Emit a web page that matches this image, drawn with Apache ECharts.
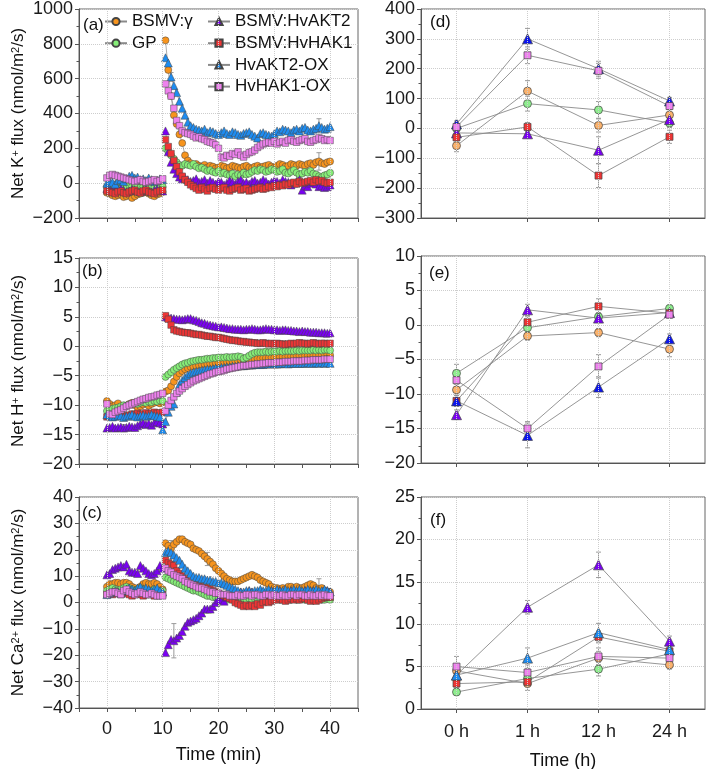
<!DOCTYPE html>
<html>
<head>
<meta charset="utf-8">
<script src="https://cdn.jsdelivr.net/npm/echarts@6/dist/echarts.min.js"></script>
<style>html,body{margin:0;padding:0;background:#fff}#c{width:709px;height:769px}</style>
</head>
<body>
<div id="c"></div>
<script>
// ---------- DATA ----------
const seriesNames = ['BSMV:\u03b3', 'GP', 'BSMV:HvAKT2', 'BSMV:HvHAK1', 'HvAKT2-OX', 'HvHAK1-OX'];
const tMin = [0,0.5,1,1.5,2,2.5,3,3.5,4,4.5,5,5.5,6,6.5,7,7.5,8,8.5,9,9.5,10,
  10.5,11,11.5,12,12.5,13,13.5,14,14.5,15,15.5,16,16.5,17,17.5,18,18.5,19,19.5,20,
  20.5,21,21.5,22,22.5,23,23.5,24,24.5,25,25.5,26,26.5,27,27.5,28,28.5,29,29.5,30,
  30.5,31,31.5,32,32.5,33,33.5,34,34.5,35,35.5,36,36.5,37,37.5,38,38.5,39,39.5,40];
const treatmentStart = 10.25; // line break between pre- and post-treatment recordings
const hours = ['0 h', '1 h', '12 h', '24 h'];

// (a) net K+ flux
const aGamma = [-55,-60,-70,-75,-70,-65,-80,-75,-70,-85,-75,-65,-60,-55,-50,-60,-70,-75,-65,-60,-50,
  820,650,500,390,340,280,230,160,130,115,
  105,110,100,95,105,90,100,95,85,90,
  100,95,85,90,100,95,90,85,95,100,
  90,85,95,100,90,95,100,105,95,90,
  100,110,105,95,100,110,105,100,110,105,
  100,110,115,105,120,125,115,110,120,125];
const aGP = [-20,-15,-25,-10,-20,-30,-15,-25,-10,-20,-5,-15,-25,-20,-10,-20,-15,-25,-10,-15,-20,
  200,180,160,140,120,105,100,110,105,100,
  110,95,85,90,80,70,75,65,60,70,
  55,60,50,45,55,40,50,45,60,50,
  55,65,75,70,80,75,65,70,80,75,
  65,70,80,60,55,65,75,60,50,55,
  65,60,70,55,50,40,35,45,50,60];
const aAKT2 = [-30,-35,-40,-45,-35,-30,-40,-50,-45,-35,-40,-45,-50,-40,-35,-45,-50,-40,-35,-40,-45,
  300,180,120,80,55,35,25,30,20,10,
  15,25,5,10,20,0,15,5,-5,10,
  5,-10,0,15,5,-5,10,20,0,5,
  -5,10,15,0,5,20,10,-5,5,15,
  10,0,20,10,5,-10,0,10,20,-40,
  -15,-20,0,10,-5,-20,-15,-25,-20,-10];
const aHAK1 = [-45,-50,-55,-60,-50,-45,-55,-60,-50,-45,-40,-50,-55,-45,-40,-50,-55,-60,-50,-45,-40,
  250,210,170,130,95,65,40,20,5,-10,
  -20,-30,-40,-25,-35,-45,-30,-25,-35,-40,
  -30,-25,-40,-45,-35,-30,-25,-40,-35,-30,
  -45,-40,-35,-30,-25,-35,-30,-20,-25,-15,
  -20,-10,-15,-5,-10,0,5,-5,10,0,
  5,10,15,5,20,10,15,5,0,5];
const aAKT2OX = [0,10,5,-5,15,20,10,25,40,45,30,35,20,25,15,30,20,10,15,25,20,
  720,690,610,560,520,470,430,390,350,330,
  320,310,305,300,310,290,300,295,285,280,
  290,300,285,280,295,290,280,275,285,290,
  295,280,270,260,285,290,280,275,270,285,
  300,295,310,305,300,290,305,310,300,315,
  320,305,300,310,315,330,320,310,315,325];
const aHAK1OX = [30,45,50,45,40,35,30,25,20,15,10,15,20,10,5,10,15,20,10,15,25,
  570,530,500,430,360,330,300,290,285,280,
  270,260,265,255,250,240,235,230,220,200,
  150,145,160,155,170,165,180,160,150,165,
  175,180,190,205,215,225,230,235,230,240,
  225,235,240,230,245,250,240,235,245,250,
  255,240,235,245,250,260,255,245,250,245];

// (b) net H+ flux
const bGamma = [-9.3,-9.8,-10.2,-10.0,-9.7,-10.3,-10.5,-10.1,-9.8,-9.6,-10.0,-10.4,-10.2,-9.9,-9.7,-10.1,-9.8,-9.6,-9.4,-9.7,-9.5,
  -7.7,-7.5,-6.8,-6.0,-5.2,-4.6,-4.2,-3.9,-3.7,-3.5,
  -3.4,-3.3,-3.2,-3.1,-3.0,-3.0,-2.9,-2.9,-2.8,-2.8,
  -2.7,-2.7,-2.6,-2.6,-2.5,-2.5,-2.5,-2.4,-2.4,-2.3,
  -2.3,-2.2,-2.2,-2.1,-2.1,-2.0,-2.0,-2.0,-1.9,-1.9,
  -1.9,-1.8,-1.8,-1.8,-1.7,-1.7,-1.7,-1.6,-1.6,-1.6,
  -1.6,-1.5,-1.5,-1.5,-1.5,-1.4,-1.5,-1.4,-1.4,-1.5];
const bGP = [-11.0,-10.8,-10.6,-10.5,-10.4,-10.2,-10.0,-10.1,-9.9,-9.8,-9.7,-9.8,-9.6,-9.5,-9.6,-9.4,-9.5,-9.3,-9.4,-9.2,-9.3,
  -5.2,-4.8,-4.4,-4.0,-3.7,-3.4,-3.1,-2.9,-2.8,-2.6,
  -2.5,-2.4,-2.3,-2.3,-2.2,-2.1,-2.1,-2.0,-2.0,-1.9,
  -1.9,-1.9,-1.8,-1.9,-1.8,-1.8,-1.7,-1.8,-2.1,-1.9,
  -1.6,-1.3,-1.1,-1.0,-1.0,-1.0,-0.9,-1.0,-0.9,-0.9,
  -0.9,-0.8,-0.9,-0.8,-0.8,-0.8,-0.8,-0.7,-0.8,-0.7,
  -0.7,-0.7,-0.7,-0.6,-0.7,-0.6,-0.7,-0.6,-0.6,-0.7];
const bAKT2 = [-13.9,-13.8,-13.6,-13.9,-13.8,-13.7,-13.9,-13.8,-13.6,-13.7,-13.8,-13.5,-13.2,-13.0,-13.3,-13.1,-13.4,-13.0,-12.8,-13.0,-13.2,
  5.0,4.9,4.8,4.7,4.6,4.6,4.5,4.6,4.7,4.7,
  4.5,4.4,4.2,4.0,3.9,3.7,3.6,3.5,3.4,3.3,
  3.3,3.2,3.1,3.0,3.0,2.9,2.9,2.9,2.8,2.9,
  2.9,3.0,2.9,2.8,2.8,2.9,3.0,2.9,2.9,2.8,
  2.8,2.7,2.8,2.8,2.7,2.7,2.6,2.6,2.5,2.6,
  2.5,2.5,2.4,2.4,2.4,2.3,2.3,2.3,2.2,2.3];
const bHAK1 = [-12.0,-11.8,-11.9,-11.7,-11.8,-11.6,-11.8,-11.9,-11.7,-11.5,-11.6,-11.4,-11.6,-11.5,-11.3,-11.5,-11.4,-11.2,-11.4,-11.3,-11.2,
  5.2,4.6,3.6,2.8,2.6,2.5,2.4,2.3,2.3,2.2,
  2.1,2.0,2.0,1.9,1.8,1.7,1.7,1.6,1.5,1.5,
  1.4,1.3,1.2,1.1,1.0,1.0,0.9,0.8,0.8,0.7,
  0.7,0.6,0.6,0.5,0.5,0.6,0.5,0.4,0.5,0.4,
  0.5,0.4,0.4,0.3,0.4,0.5,0.4,0.5,0.6,0.5,
  0.5,0.4,0.5,0.6,0.5,0.4,0.5,0.5,0.4,0.5];
const bAKT2OX = [-11.6,-11.8,-12.0,-11.9,-11.7,-11.8,-12.1,-11.9,-11.8,-11.6,-11.9,-12.0,-11.8,-11.7,-11.9,-11.8,-11.6,-11.8,-11.9,-12.0,-14.2,
  -12.8,-11.2,-10.2,-9.8,-7.8,-6.5,-5.8,-5.3,-4.9,-4.6,
  -4.4,-4.3,-4.2,-4.1,-4.0,-3.9,-3.9,-3.8,-3.7,-3.7,
  -3.6,-3.6,-3.5,-3.5,-3.4,-3.4,-3.3,-3.3,-3.3,-3.2,
  -3.2,-3.2,-3.1,-3.1,-3.1,-3.1,-3.0,-3.0,-3.0,-3.0,
  -3.0,-3.0,-2.9,-2.9,-3.0,-2.9,-2.9,-2.9,-2.9,-2.9,
  -2.9,-2.8,-2.9,-2.9,-2.8,-2.9,-2.8,-2.9,-2.8,-2.9];
const bHAK1OX = [-9.8,-11.5,-11.6,-11.2,-11.0,-10.8,-10.5,-10.2,-10.0,-9.8,-9.6,-9.4,-9.2,-9.0,-8.9,-8.7,-8.6,-8.5,-8.3,-8.2,-8.0,
  -11.0,-10.0,-9.2,-8.6,-8.0,-7.6,-7.2,-6.8,-6.5,-6.2,
  -5.9,-5.7,-5.5,-5.3,-5.1,-4.9,-4.7,-4.6,-4.4,-4.3,
  -4.2,-4.1,-3.9,-3.8,-3.7,-3.6,-3.5,-3.4,-3.3,-3.3,
  -3.2,-3.1,-3.1,-3.0,-3.0,-2.9,-2.9,-2.8,-2.8,-2.8,
  -2.7,-2.7,-2.7,-2.6,-2.6,-2.6,-2.5,-2.5,-2.5,-2.5,
  -2.4,-2.4,-2.4,-2.3,-2.3,-2.3,-2.3,-2.2,-2.2,-2.2];

// (c) net Ca2+ flux
const cGamma = [6,7,7,7.5,7.5,7,7.5,7.5,7,6,5.5,5,6,7,7.5,7,7,7.5,7,6,5,
  22.5,21.5,20.5,22,23,24,24,23,22.5,22,
  20.5,20,19.5,18.5,17.5,16.5,15.5,14.5,13,12,
  11,10,9,8.5,8,8,8,8.5,9,9.5,
  10,10.5,10,9.5,8.5,8,7.5,7,6,5.5,
  5.5,5,5.5,5,6,6,5.5,6,5.5,5.5,
  6,6.5,7,6.5,5.5,5,5.5,4.5,4,4];
const cGP = [4.5,5,5.5,5,4.5,5,5.5,6,5.5,5,4.5,5,5.5,5,4.5,4,4.5,5,4.5,4,4.5,
  9.5,9,8.5,8,7.5,7,6.5,6,5.5,5,
  4.5,4.5,4,3.5,3,2.5,2.5,2,2,1.5,
  1.5,1.5,1,1.5,1,1,1.5,1,1.5,1,
  1.5,1,1.5,1,1,1.5,1.5,1,1,1.5,
  1.5,1,1,1.5,1,1,1.5,1,1,1.5,
  1,1,1.5,1,1,1.5,1,1,1.5,1];
const cAKT2 = [10.5,11,12.5,13,13.5,14,13.5,14.5,12,11.5,11.5,11,14,13,12,11,10.5,11,12,14,13,
  -19,-16,-14,-14.5,-13.5,-12.5,-11,-9,-7.5,-7,
  -6.5,-6,-5,-4,-2.5,-2.5,-2.5,-1.5,0,1,
  1,0.5,2,2.5,3,3.5,3,4,3.5,4,
  4.5,4,3.5,4,4.5,4,3.5,4,4.5,4,
  4,4.5,4,3.5,4,4.5,4,4,3.5,4,
  4.5,4,4,4.5,4,3.5,4,4.5,4.5,4];
const cHAK1 = [3,3.5,3,4,3.5,3,3.5,4,3,2.5,3,3.5,3,2.5,3,3.5,3,2.5,3,3.5,3,
  16,15,14.5,14,12,11,10,9,8,7,
  6.5,6.5,6,6,5.5,5.5,5,4.5,4,3.5,
  3,2.5,2,1.5,1,0,-0.5,-1,-1.5,-1,
  -1.5,-1,-1.5,-0.5,-1,0,0.5,0,0.5,1,
  1,1.5,1,0.5,1,1.5,1,1.5,1,1.5,
  1.5,1,0.5,1,0.5,1,1.5,2,2,2];
const cAKT2OX = [3,3.5,4,4.5,4,3.5,4.5,5,5.5,5,4.5,5.5,6,5,5.5,5,4.5,5,5.5,4.5,4,
  19,19.5,19,18,17,16,14.5,13,12,11,
  10,9.5,9.5,9,9,8.5,8.5,8,8,7.5,
  7.5,7,6.5,6,5.5,5,4.5,4,4,4.5,
  4.5,4,4.5,4.5,5,4.5,4.5,5,4.5,4.5,
  5,4.5,4.5,5,4.5,4.5,5,4.5,5,4.5,
  4.5,5,4.5,4.5,5,4.5,4.5,5,4.5,4];
const cHAK1OX = [3,3.5,4,4,3.5,3,4.5,5,4,3.5,3,3.5,4,3.5,3,3,3.5,3,2.5,2.5,2.5,
  13,12,11.5,10.5,10,9.5,9,8,7.5,7,
  6.5,6,5.5,5.5,5,4.5,4,4,3.5,3.5,
  3,3,3,2.5,2.5,2.5,3,2.5,2.5,3,
  3,2.5,3,3,2.5,2.5,3,3,2.5,3,
  2.5,2.5,3,2.5,2.5,3,3,2.5,3,3,
  2.5,2.5,3,2.5,2.5,3,2.5,3,2.5,2.5];

// sparse error bars visible on the time courses: [time, mean, error]
const aErrBars = [[38, 125, 50], [38, 320, 50], [11.5, 610, 25]];
const bErrBars = [[3, -13.9, 0.6], [9, -12.8, 0.6]];
const cErrBars = [[12, -14.5, 6.5], [11.5, 19, 4.5], [18, 16.5, 2.5], [38, 5, 4]];

// (d) K+ at 0/1/12/24 h  (mean, error)
const dGamma = [-58, 125, 10, 45];     const dGammaErr = [20, 35, 22, 18];
const dGP = [0, 83, 62, 18];           const dGPErr = [12, 25, 28, 15];
const dAKT2 = [-15, -18, -73, 30];     const dAKT2Err = [10, 12, 45, 15];
const dHAK1 = [-30, 5, -158, -28];     const dHAK1Err = [12, 15, 40, 22];
const dAKT2OX = [15, 300, 200, 92];    const dAKT2OXErr = [10, 35, 25, 12];
const dHAK1OX = [5, 245, 193, 75];     const dHAK1OXErr = [10, 28, 25, 12];
// (e) H+
const eGamma = [-9.4, -1.6, -1.1, -3.5];   const eGammaErr = [0.8, 0.6, 0.6, 1.1];
const eGP = [-7, -0.4, 1.2, 2.4];          const eGPErr = [1.3, 0.6, 0.6, 0.5];
const eAKT2 = [-13, 2.2, 1.0, 1.8];        const eAKT2Err = [0.7, 0.8, 0.5, 0.5];
const eHAK1 = [-11, 0.4, 2.7, 1.7];        const eHAK1Err = [0.8, 0.8, 1.1, 0.5];
const eAKT2OX = [-11, -16, -9, -2];        const eAKT2OXErr = [0.8, 1.8, 1.5, 0.7];
const eHAK1OX = [-8, -15, -6, 1.5];        const eHAK1OXErr = [1.0, 1.0, 1.7, 0.5];
// (f) Ca2+
const fGamma = [4.5, 3, 6, 5.2];           const fGammaErr = [0.6, 0.8, 0.8, 0.5];
const fGP = [2, 3.6, 4.7, 6.5];            const fGPErr = [0.4, 0.7, 0.8, 0.5];
const fAKT2 = [4, 12, 17, 8];              const fAKT2Err = [0.6, 0.8, 1.5, 0.6];
const fHAK1 = [3, 3.2, 8.5, 6.8];          const fHAK1Err = [0.5, 0.6, 0.7, 0.5];
const fAKT2OX = [4, 6, 9, 7];              const fAKT2OXErr = [0.6, 1.2, 1.1, 0.6];
const fHAK1OX = [5, 4.3, 6.2, 6];          const fHAK1OXErr = [1.2, 0.9, 1.0, 0.6];

// ---------- STYLE ----------
const FF = 'Liberation Sans, Arial, sans-serif';
const symbols = ['circle', 'circle', 'triangle', 'rect', 'triangle', 'rect'];
const symTC = [7, 7, 8, 6.5, 8, 6.5];
const symH = [8, 8, 10, 7, 10, 7];
const colTC = ['#F7941D', '#86EE78', '#7A00F2', '#EE3535', '#1E8CF0', '#EE82EE'];
const colDE = ['#FBB26C', '#8EEE8E', '#7A00F2', '#EE3535', '#0A14F0', '#EE82EE'];
const colF = ['#FBB26C', '#8EEE8E', '#7A00F2', '#EE3535', '#1E8CF0', '#EE82EE'];

const grids = [
  {left: 79, top: 9, width: 279, height: 209},
  {left: 79, top: 258, width: 279, height: 206},
  {left: 79, top: 497, width: 279, height: 211},
  {left: 421, top: 9, width: 284, height: 209},
  {left: 421, top: 256, width: 284, height: 207},
  {left: 421, top: 497, width: 284, height: 212}
].map(g => Object.assign(g, {show: true, borderColor: '#666', borderWidth: 1, backgroundColor: 'transparent', outerBoundsMode: 'none', containLabel: false}));

const minus = v => String(v).replace('-', '\u2212');
const axisNameStyle = {fontSize: 17, color: '#111', fontFamily: FF, rich: {sup: {fontSize: 11, verticalAlign: 'top', fontFamily: FF, color: '#111'}}};

function yAx(gi, min, max, interval, name) {
  return {
    type: 'value', gridIndex: gi, min, max, interval,
    axisLine: {show: true, onZero: false, lineStyle: {color: '#555'}},
    axisTick: {show: true, inside: false, length: 4, lineStyle: {color: '#555'}},
    minorTick: {show: true, splitNumber: 2, length: 2.5, lineStyle: {color: '#555'}},
    splitLine: {show: true, lineStyle: {type: 'dotted', color: '#cdcdcd'}},
    axisLabel: {fontSize: 18, color: '#1a1a1a', margin: 6, fontFamily: FF, formatter: minus},
    name: name || '', nameLocation: 'middle', nameGap: 52, nameRotate: 90,
    nameTextStyle: axisNameStyle
  };
}
function xTC(gi, showLabel, name) {
  return {
    type: 'value', gridIndex: gi, min: -5, max: 45, interval: 5,
    axisLine: {show: true, onZero: false, lineStyle: {color: '#555'}},
    axisTick: {show: true, inside: false, length: 4, lineStyle: {color: '#555'}},
    splitLine: {show: false},
    axisLabel: {show: showLabel, fontSize: 18, color: '#1a1a1a', margin: 12, fontFamily: FF,
      formatter: v => (v % 10 === 0 ? minus(v) : '')},
    name: name || '', nameLocation: 'middle', nameGap: 38,
    nameTextStyle: {fontSize: 18, color: '#111', fontFamily: FF}
  };
}
function xH(gi, showLabel, name) {
  return {
    type: 'category', gridIndex: gi, data: hours, boundaryGap: true,
    axisLine: {show: true, onZero: false, lineStyle: {color: '#555'}},
    axisTick: {show: true, inside: false, alignWithLabel: true, length: 4, lineStyle: {color: '#555'}},
    splitLine: {show: false},
    axisLabel: {show: showLabel, fontSize: 18, color: '#1a1a1a', margin: 14, fontFamily: FF},
    name: name || '', nameLocation: 'middle', nameGap: 43,
    nameTextStyle: {fontSize: 18, color: '#111', fontFamily: FF}
  };
}

const xAxis = [xTC(0, false), xTC(1, false), xTC(2, true, 'Time (min)'),
  xH(3, false), xH(4, false), xH(5, true, 'Time (h)')];
const yAxis = [
  yAx(0, -200, 1000, 200, 'Net K{sup|+} flux (nmol/m{sup|2}/s)'),
  yAx(1, -20, 15, 5, 'Net H{sup|+} flux (nmol/m{sup|2}/s)'),
  yAx(2, -40, 40, 10, 'Net Ca{sup|2+} flux (nmol/m{sup|2}/s)'),
  yAx(3, -300, 400, 100), yAx(4, -20, 10, 5), yAx(5, 0, 25, 5)
];

const gridLineStyle = {type: 'dotted', color: '#cdcdcd', width: 1};
function vLinesTC() {
  return {silent: true, symbol: ['none', 'none'], label: {show: false}, animation: false,
    lineStyle: gridLineStyle, data: [0, 10, 20, 30, 40].map(v => ({xAxis: v}))};
}
function vLinesH() {
  return {silent: true, symbol: ['none', 'none'], label: {show: false}, animation: false,
    lineStyle: gridLineStyle, data: hours.map(h => ({xAxis: h}))};
}
function renderErr(params, api) {
  const x = api.value(0), y = api.value(1), e = api.value(2);
  const hi = api.coord([x, y + e]), lo = api.coord([x, y - e]);
  const w = 2.5, st = {stroke: '#9a9a9a', lineWidth: 1};
  return {type: 'group', children: [
    {type: 'line', shape: {x1: hi[0], y1: hi[1], x2: lo[0], y2: lo[1]}, style: st},
    {type: 'line', shape: {x1: hi[0] - w, y1: hi[1], x2: hi[0] + w, y2: hi[1]}, style: st},
    {type: 'line', shape: {x1: lo[0] - w, y1: lo[1], x2: lo[0] + w, y2: lo[1]}, style: st}
  ]};
}

const series = [];
const tcSets = [
  [aGamma, aGP, aAKT2, aHAK1, aAKT2OX, aHAK1OX],
  [bGamma, bGP, bAKT2, bHAK1, bAKT2OX, bHAK1OX],
  [cGamma, cGP, cAKT2, cHAK1, cAKT2OX, cHAK1OX]
];
const tcErr = [aErrBars, bErrBars, cErrBars];
tcSets.forEach((set, gi) => {
  series.push({
    type: 'custom', name: 'err' + gi, xAxisIndex: gi, yAxisIndex: gi, data: tcErr[gi],
    renderItem: renderErr, encode: {x: 0, y: 1}, silent: true, animation: false, z: 1
  });
  set.forEach((vals, si) => {
    const pts = [];
    tMin.forEach((t, i) => {
      if (i > 0 && tMin[i - 1] < treatmentStart && t > treatmentStart) pts.push([treatmentStart, '-']);
      pts.push([t, vals[i]]);
    });
    const s = {
      type: 'line', name: seriesNames[si], xAxisIndex: gi, yAxisIndex: gi,
      data: pts, connectNulls: false,
      symbol: symbols[si], symbolSize: symTC[si], showSymbol: true,
      lineStyle: {color: '#8a8a8a', width: 0.7},
      itemStyle: {color: colTC[si], borderColor: '#444', borderWidth: 0.5},
      animation: false, z: 3
    };
    if (si === 0) s.markLine = vLinesTC();
    series.push(s);
  });
});

const hSets = [
  [[dGamma, dGP, dAKT2, dHAK1, dAKT2OX, dHAK1OX], [dGammaErr, dGPErr, dAKT2Err, dHAK1Err, dAKT2OXErr, dHAK1OXErr], colDE],
  [[eGamma, eGP, eAKT2, eHAK1, eAKT2OX, eHAK1OX], [eGammaErr, eGPErr, eAKT2Err, eHAK1Err, eAKT2OXErr, eHAK1OXErr], colDE],
  [[fGamma, fGP, fAKT2, fHAK1, fAKT2OX, fHAK1OX], [fGammaErr, fGPErr, fAKT2Err, fHAK1Err, fAKT2OXErr, fHAK1OXErr], colF]
];
hSets.forEach(([vals, errs, cols], k) => {
  const gi = 3 + k;
  vals.forEach((v, si) => {
    series.push({
      type: 'custom', name: seriesNames[si] + ' err', xAxisIndex: gi, yAxisIndex: gi,
      data: v.map((y, i) => [i, y, errs[si][i]]),
      renderItem: renderErr, encode: {x: 0, y: 1}, silent: true, animation: false, z: 1
    });
  });
  vals.forEach((v, si) => {
    const s = {
      type: 'line', name: seriesNames[si], xAxisIndex: gi, yAxisIndex: gi,
      data: v, symbol: symbols[si], symbolSize: symH[si], showSymbol: true,
      lineStyle: {color: '#8a8a8a', width: 0.9},
      itemStyle: {color: cols[si], borderColor: '#444', borderWidth: 0.7},
      animation: false, z: 3
    };
    if (si === 0) s.markLine = vLinesH();
    series.push(s);
  });
});

const panelLabel = (text, left, top) => ({text, left, top, padding: 0,
  textStyle: {fontSize: 17, fontWeight: 'normal', color: '#111', fontFamily: FF}});

const legendBase = {orient: 'vertical', itemGap: 4.7, itemWidth: 22, itemHeight: 9, selectedMode: false,
  padding: 0, textStyle: {fontSize: 17, color: '#111', fontFamily: FF}};

const option = {
  backgroundColor: '#fff',
  animation: false,
  title: [panelLabel('(a)', 83, 17), panelLabel('(b)', 82, 263), panelLabel('(c)', 82, 505),
          panelLabel('(d)', 430, 14), panelLabel('(e)', 429, 265), panelLabel('(f)', 430, 512)],
  legend: [
    Object.assign({}, legendBase, {data: seriesNames.slice(0, 2), left: 104, top: 13}),
    Object.assign({}, legendBase, {data: seriesNames.slice(2), left: 207, top: 13})
  ],
  grid: grids, xAxis, yAxis, series
};
const chart = echarts.init(document.getElementById('c'), null, {renderer: 'canvas'});
chart.setOption(option);
</script>
</body>
</html>
